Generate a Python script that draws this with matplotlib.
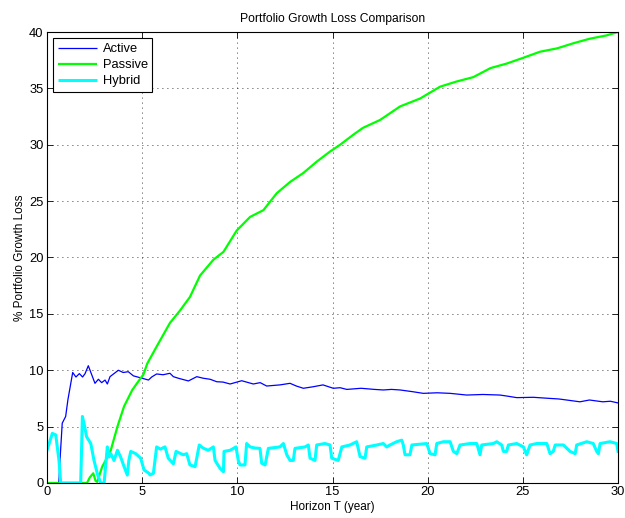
import matplotlib
matplotlib.use("Agg")
import matplotlib.pyplot as plt

plt.rcParams["font.family"] = ["Liberation Sans", "DejaVu Sans"]

# Horizon (years) and loss (%) for each strategy
active_t = [0, 0.62, 0.7, 0.8, 0.98, 1.1, 1.35, 1.52, 1.7, 1.87, 2.0, 2.17, 2.35, 2.52,
            2.7, 2.87, 3.05, 3.17, 3.31, 3.75, 4.0, 4.27, 4.54, 4.98, 5.33, 5.5, 5.76,
            6.1, 6.46, 6.64, 6.9, 7.43, 7.87, 8.21, 8.57, 8.92, 9.25, 9.62, 10.23,
            10.84, 11.2, 11.54, 12.24, 12.77, 13.1, 13.47, 14.0, 14.5, 15.04, 15.4,
            15.75, 16.5, 17.2, 17.67, 18.1, 18.55, 19.2, 19.77, 20.5, 21.18, 22.05,
            22.9, 23.8, 24.2, 24.68, 25.55, 26.43, 26.9, 27.3, 28.0, 28.5, 29.2, 29.6,
            30.0]
active_loss = [0, 0, 2.5, 5.3, 5.9, 7.4, 9.8, 9.4, 9.7, 9.4, 9.7, 10.4, 9.6, 8.84,
               9.2, 8.9, 9.13, 8.78, 9.43, 10.0, 9.8, 9.87, 9.5, 9.3, 9.13, 9.4, 9.67,
               9.6, 9.73, 9.43, 9.29, 9.05, 9.43, 9.29, 9.2, 8.98, 8.95, 8.78, 9.07,
               8.78, 8.9, 8.6, 8.7, 8.84, 8.6, 8.4, 8.54, 8.7, 8.4, 8.45,
               8.3, 8.4, 8.3, 8.25, 8.3, 8.25, 8.1, 7.95, 8.0, 7.95, 7.8,
               7.85, 7.8, 7.7, 7.57, 7.6, 7.5, 7.45, 7.36, 7.2, 7.36, 7.2, 7.25,
               7.1]

passive_t = [0, 2.1, 2.25, 2.43, 2.55, 2.64, 2.9, 3.08, 3.35, 3.7, 4.05, 4.48, 4.92,
             5.06, 5.27, 5.76, 6.46, 6.99, 7.51, 8.04, 8.74, 9.27, 9.97, 10.67, 11.37,
             12.07, 12.77, 13.47, 14.17, 14.87, 15.4, 16.1, 16.6, 17.5, 18.55, 19.6,
             20.65, 21.5, 22.4, 23.3, 24.15, 25.0, 25.9, 26.8, 27.65, 28.5, 29.4, 30.0]
passive_loss = [0, 0, 0.5, 0.86, 0.2, 0.1, 1.45, 2.0, 2.9, 5.0, 6.8, 8.25, 9.3,
                9.6, 10.6, 12.1, 14.2, 15.3, 16.5, 18.4, 19.8, 20.5, 22.4, 23.6, 24.2,
                25.7, 26.7, 27.5, 28.5, 29.4, 30.0, 30.9, 31.5, 32.2, 33.4, 34.1,
                35.15, 35.6, 36.0, 36.8, 37.2, 37.7, 38.25, 38.55, 39.0, 39.4, 39.7, 40.0]

hybrid_t = [0, 0.28, 0.46, 0.63, 0.72, 1.77, 1.86, 1.98, 2.08, 2.3, 2.47, 2.64, 2.82,
            3.0, 3.17, 3.26, 3.35, 3.52, 3.7, 3.87, 4.05, 4.22, 4.3, 4.4, 4.66, 4.92,
            5.1, 5.36, 5.41, 5.59, 5.76, 5.95, 6.2, 6.37, 6.64, 6.78, 7.16, 7.34, 7.51,
            7.78, 8.0, 8.2, 8.47, 8.74, 8.83, 9.09, 9.27, 9.3, 9.62, 9.93, 10.05, 10.14,
            10.4, 10.49, 10.67, 10.93, 11.19, 11.28, 11.46, 11.63, 12.24, 12.42, 12.6,
            12.77, 12.94, 13.03, 13.56, 13.73, 13.82, 14.08, 14.17, 14.6, 14.87, 14.96,
            15.3, 15.49, 15.92, 16.27, 16.45, 16.71, 16.8, 17.33, 17.67, 17.85, 18.02,
            18.37, 18.64, 18.72, 18.81, 19.07, 19.17, 19.95, 20.13, 20.39, 20.48, 20.83,
            21.18, 21.35, 21.53, 21.7, 22.23, 22.58, 22.75, 22.84, 23.45, 23.63, 23.89,
            23.98, 24.15, 24.24, 24.68, 25.03, 25.2, 25.38, 25.73, 26.26, 26.43, 26.6,
            26.7, 27.13, 27.48, 27.75, 27.83, 28.36, 28.7, 28.88, 28.97, 29.06, 29.58,
            29.93, 30.0]
hybrid_loss = [2.9, 4.4, 4.26, 2.0, 0.0, 0.0, 5.9, 5.0, 4.1, 3.5, 2.0, 0.86, 0.0,
               0.0, 3.2, 2.3, 2.6, 2.0, 2.9, 2.3, 1.45, 0.7, 2.0, 2.8, 2.6, 2.2,
               1.15, 0.86, 0.71, 0.86, 3.2, 3.0, 3.2, 2.2, 1.7, 2.8, 2.5, 2.6, 1.6,
               1.45, 3.37, 3.1, 2.9, 3.2, 2.0, 1.3, 1.0, 2.8, 2.9, 3.2, 2.0, 1.6,
               1.6, 3.5, 3.2, 3.1, 3.07, 1.75, 1.6, 3.07, 3.2, 3.5, 2.5,
               2.0, 2.0, 3.07, 3.2, 3.37, 2.2, 2.0, 3.37, 3.5, 3.37, 2.2,
               2.0, 3.2, 3.37, 3.66, 2.33, 2.2, 3.2, 3.37, 3.5, 3.2, 3.37,
               3.66, 3.8, 3.37, 2.5, 2.5, 3.37, 3.5, 2.6, 2.5, 3.5, 3.66,
               3.66, 2.8, 2.6, 3.37, 3.5, 3.5, 2.5, 3.37, 3.5, 3.66, 3.37,
               2.8, 2.8, 3.37, 3.5, 3.2, 2.5, 3.37, 3.5, 3.5, 2.6, 2.8,
               3.37, 3.37, 2.8, 2.6, 3.37, 3.66, 3.5, 2.8, 2.6, 3.5, 3.66,
               3.5, 2.8]

fig = plt.figure(figsize=(6.25, 5.18), dpi=100)
ax = fig.add_axes([0.0752, 0.0676, 0.9136, 0.8706])

ax.plot(active_t, active_loss, color=(0, 0, 1), lw=0.9, label="Active")
ax.plot(passive_t, passive_loss, color=(0, 1, 0), lw=1.6, label="Passive")
ax.plot(hybrid_t, hybrid_loss, color=(0, 1, 1), lw=2.2, label="Hybrid")

ax.set_xlim(0, 30)
ax.set_ylim(0, 40)
ax.set_xticks(range(0, 31, 5))
ax.set_yticks(range(0, 41, 5))
ax.tick_params(direction="in", top=True, right=True, labelsize=9.3, length=4,
               width=0.6, pad=2.5)
ax.grid(True, linestyle=(0, (1, 5)), color="black", linewidth=0.6)
for s in ax.spines.values():
    s.set_linewidth(0.8)

ax.set_title("Portfolio Growth Loss Comparison", fontsize=8.7, pad=7)
ax.set_xlabel("Horizon T (year)", fontsize=8.5, labelpad=2)
ax.set_ylabel("% Portfolio Growth Loss", fontsize=8.5, labelpad=2)

leg = ax.legend(loc="upper left", fontsize=9.3, fancybox=False, framealpha=1,
                edgecolor="black", borderaxespad=0.5, handlelength=3.0,
                borderpad=0.35, labelspacing=0.32, handletextpad=0.45)
leg.get_frame().set_linewidth(0.8)
for h in leg.get_lines():
    h.set_solid_capstyle("butt")

fig.savefig("out.png", dpi=100)
